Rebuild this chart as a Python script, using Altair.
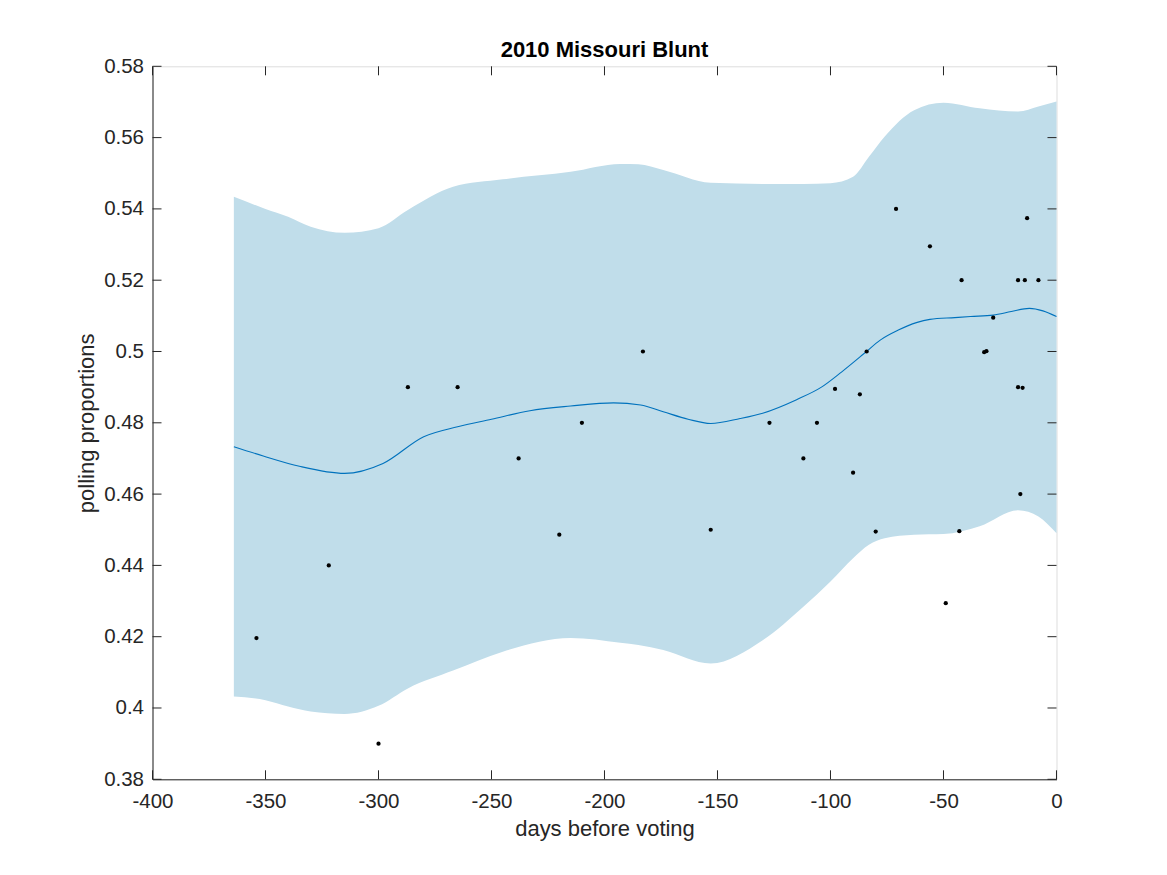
import altair as alt
import pandas as pd

# ---- data ----
poll_days = [-354, -322, -300, -287, -265, -238, -220, -210, -183, -153, -127, -112, -106,
             -98, -90, -87, -84, -80, -71, -56, -49, -43, -42, -32, -31, -28, -17, -17,
             -16, -15, -14, -13, -8]
poll_vals = [0.4196, 0.44, 0.39, 0.49, 0.49, 0.47, 0.4486, 0.48, 0.50, 0.45, 0.48, 0.47, 0.48,
             0.4895, 0.466, 0.488, 0.50, 0.4495, 0.54, 0.5295, 0.4294, 0.4496, 0.52, 0.4998, 0.5001,
             0.5095, 0.52, 0.49, 0.46, 0.4898, 0.52, 0.5374, 0.52]

band_days = [-364, -350, -340, -330, -315, -300, -287, -267, -245, -215, -193, -185, -174,
             -153, -130, -112, -100, -90, -83, -76, -63, -50, -34, -17, -8, 0]
band_upper = [0.5434, 0.5400, 0.5378, 0.5350, 0.5333, 0.5346, 0.5397, 0.5462, 0.5483, 0.5504,
              0.5526, 0.5525, 0.5509, 0.5473, 0.5470, 0.5470, 0.5472, 0.5490, 0.5546, 0.5603,
              0.5677, 0.5698, 0.5682, 0.5673, 0.5687, 0.5701]
band_lower = [0.4032, 0.4022, 0.4004, 0.3990, 0.3983, 0.4006, 0.4055, 0.4105, 0.4158, 0.4196,
              0.4183, 0.4177, 0.4163, 0.4125, 0.4190, 0.4284, 0.4355, 0.4420, 0.4458, 0.4476,
              0.4486, 0.4488, 0.4510, 0.4555, 0.4537, 0.4490]

curve_days = [-364, -351, -335, -315, -298, -280, -265, -250, -233, -215, -196, -184, -174,
              -163, -153, -140, -130, -115, -104, -95, -85, -78, -70, -62, -56, -45, -38,
              -28, -20, -12, -6, 0]
curve_vals = [0.4733, 0.4707, 0.4678, 0.4658, 0.4686, 0.4761, 0.4789, 0.4810, 0.4834, 0.4847,
              0.4856, 0.4850, 0.4831, 0.4810, 0.4798, 0.4812, 0.4827, 0.4865, 0.4900, 0.4943,
              0.4995, 0.5032, 0.5060, 0.5081, 0.5090, 0.5095, 0.5098, 0.5102, 0.5112, 0.5121,
              0.5114, 0.5098]

x_ticks = [-400, -350, -300, -250, -200, -150, -100, -50, 0]
y_ticks = [0.38, 0.40, 0.42, 0.44, 0.46, 0.48, 0.50, 0.52, 0.54, 0.56, 0.58]

title_text = "2010 Missouri Blunt"
x_title = "days before voting"
y_title = "polling proportions"

# ---- tables ----
polls = pd.DataFrame({"day": poll_days, "p": poll_vals})
band = pd.DataFrame({"day": band_days, "upper": band_upper, "lower": band_lower})
curve = pd.DataFrame({"day": curve_days, "p": curve_vals})
xt = pd.DataFrame({"v": x_ticks})
yt = pd.DataFrame({"v": y_ticks})

W, H = 904, 713
FONT = "Liberation Sans"
AX = "#262626"
TL = 9

xscale = alt.Scale(domain=[-400, 0], nice=False, zero=False)
yscale = alt.Scale(domain=[0.38, 0.58], nice=False, zero=False)

xaxis = alt.Axis(values=x_ticks, title=x_title, grid=False, ticks=True, tickSize=0,
                 labelPadding=12, labelFontSize=20.5, labelFont=FONT, labelColor=AX,
                 labelExpr="datum.value < 0 ? '-' + abs(datum.value) : '' + datum.value",
                 titleFont=FONT, titleFontSize=22, titleFontWeight="normal", titleColor=AX,
                 titleBaseline="alphabetic", titleY=56, domainColor=AX, labelFlush=False)
yaxis = alt.Axis(values=y_ticks, title=y_title, grid=False, ticks=True, tickSize=0,
                 labelPadding=9, labelFontSize=20.5, labelFont=FONT, labelColor=AX,
                 labelExpr="'' + datum.value",
                 titleFont=FONT, titleFontSize=22, titleFontWeight="normal", titleColor=AX,
                 titleBaseline="alphabetic", titleX=-59, titleY=H / 2, titleAngle=-90,
                 domainColor=AX, labelFlush=False)

area = alt.Chart(band).mark_area(color="#C0DDEA", opacity=1, interpolate="monotone").encode(
    x=alt.X("day:Q", scale=xscale, axis=xaxis),
    y=alt.Y("upper:Q", scale=yscale, axis=yaxis),
    y2="lower:Q",
)

line = alt.Chart(curve).mark_line(color="#0072BD", strokeWidth=1.1, interpolate="monotone").encode(
    x=alt.X("day:Q", scale=xscale),
    y=alt.Y("p:Q", scale=yscale),
)

pts = alt.Chart(polls).mark_circle(color="black", opacity=1, size=18).encode(
    x=alt.X("day:Q", scale=xscale),
    y=alt.Y("p:Q", scale=yscale),
)

xt_bot = alt.Chart(xt).mark_rule(color=AX, strokeWidth=1).encode(
    x=alt.X("v:Q", scale=xscale), y=alt.value(H), y2=alt.value(H - TL))
xt_top = alt.Chart(xt).mark_rule(color=AX, strokeWidth=1).encode(
    x=alt.X("v:Q", scale=xscale), y=alt.value(0), y2=alt.value(TL))
yt_left = alt.Chart(yt).mark_rule(color=AX, strokeWidth=1).encode(
    y=alt.Y("v:Q", scale=yscale), x=alt.value(0), x2=alt.value(TL))
yt_right = alt.Chart(yt).mark_rule(color=AX, strokeWidth=1).encode(
    y=alt.Y("v:Q", scale=yscale), x=alt.value(W), x2=alt.value(W - TL))

chart = alt.layer(area, line, pts, xt_bot, xt_top, yt_left, yt_right).properties(
    width=W,
    height=H,
    title=alt.TitleParams(title_text, font=FONT, fontSize=22, fontWeight="bold", color="black",
                          anchor="middle", frame="group", baseline="bottom", offset=4, dy=32),
    autosize=alt.AutoSizeParams(type="none"),
    padding={"left": 144.5, "top": 58.3, "right": 100, "bottom": 80},
).configure_view(stroke=AX, strokeWidth=1).configure(background="white")

chart.save("out.html", embed_options={"renderer": "svg", "actions": False})
